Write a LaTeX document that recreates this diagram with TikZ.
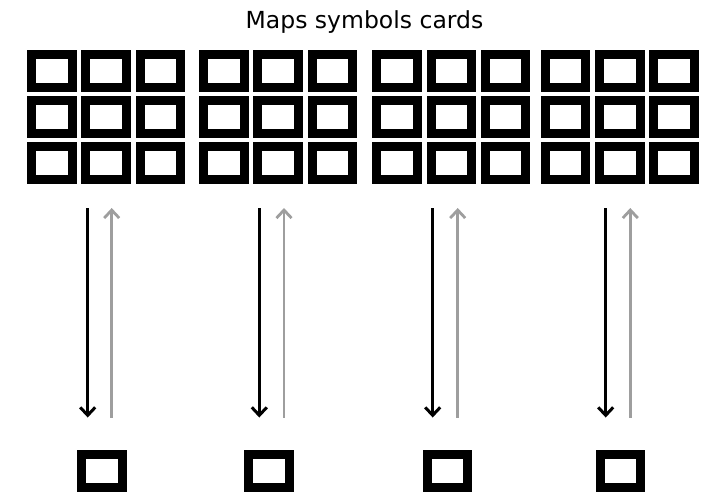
\documentclass[tikz,border=0pt]{standalone}
\usepackage{fontspec}
\setmainfont{DejaVu Sans}
\usetikzlibrary{arrows.meta}
\begin{document}
\begin{tikzpicture}[x=1pt,y=-1pt,
  card/.style={draw=black, line width=9pt, minimum width=40.5pt, minimum height=33pt,
    inner sep=0pt, outer sep=0pt, fill=white},
  downarrow/.style={draw=black, line width=2.8pt,
    -{Straight Barb[length=8pt,width=15pt,line width=3pt]}},
  uparrow/.style={draw=black!38, line width=2.6pt,
    -{Straight Barb[length=8pt,width=15pt,line width=2.8pt]}},
  titletext/.style={font=\fontsize{23.5}{28}\selectfont, anchor=base, inner sep=0pt}]
\useasboundingbox (0,0) rectangle (704,493);
\node[titletext] (title) at (364.5,28) {Maps symbols cards};
\foreach \g [count=\i] in {27,199,372.3,540.7} {
  \foreach \c in {0,1,2} {
    \foreach \r in {0,1,2} {
      \node[card] (c\i-\r-\c) at ({\g+24.75+\c*54.3},{71.2+\r*45.7}) {};
    }
  }
}
\foreach \x [count=\i] in {102,269,447.3,620.3} {
  \node[card] (s\i) at (\x,471.3) {};
}
\foreach \b/\gr [count=\i] in {87.7/111.7, 259.3/284, 432.7/457.7, 605.7/630.3} {
  \coordinate (bt\i) at (\b,208);
  \coordinate (bb\i) at (\b,417.5);
  \coordinate (gt\i) at (\gr,208);
  \coordinate (gb\i) at (\gr,417.5);
  \draw[downarrow] (bt\i) -- (bb\i);
  \draw[uparrow] (gb\i) -- (gt\i);
}
\end{tikzpicture}
\end{document}
